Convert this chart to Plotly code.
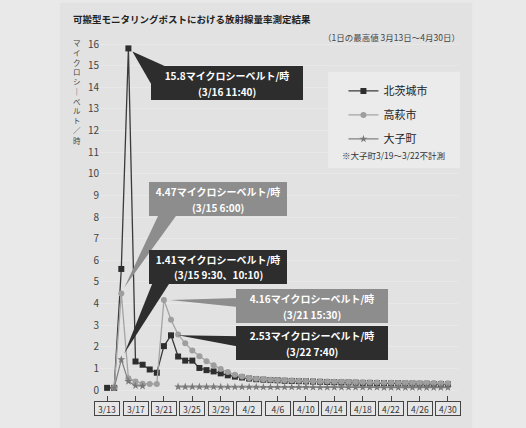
import plotly.graph_objects as go
import pandas as pd

# ---------------- data ----------------
dates = pd.date_range('2011-03-13', '2011-04-30').strftime('%Y-%m-%d').tolist()

kitaibaraki = [0.10, 0.10, 5.6, 15.8, 1.32, 1.17, 0.95, 0.80, 2.03, 2.53, 1.55, 1.36, 1.36, 1.02, 0.92, 0.86, 0.77, 0.68, 0.62,
               0.58, 0.53, 0.50, 0.48, 0.46, 0.45, 0.43, 0.42, 0.41, 0.40,
               0.39, 0.38, 0.37, 0.36, 0.35, 0.35, 0.34, 0.33, 0.33, 0.32,
               0.32, 0.31, 0.31, 0.30, 0.30, 0.29, 0.29, 0.28, 0.28, 0.27]

takahagi = [None, 0.10, 4.47, 0.55, 0.40, 0.29, 0.28, 0.28, 4.16, 3.25, 2.57, 2.16, 1.83, 1.56, 1.33, 1.15, 0.97, 0.83, 0.71,
            0.63, 0.56, 0.52, 0.50, 0.48, 0.46, 0.45, 0.44, 0.43, 0.42,
            0.41, 0.40, 0.39, 0.38, 0.38, 0.37, 0.36, 0.36, 0.35, 0.35,
            0.34, 0.34, 0.33, 0.33, 0.33, 0.32, 0.32, 0.32, 0.31, 0.31]

daigo = [None, 0.10, 1.41, 0.40, 0.20, 0.18, None, None, None, None, 0.15, 0.15, 0.15, 0.15, 0.15, 0.15, 0.14, 0.14, 0.14,
         0.14, 0.14, 0.14, 0.13, 0.13, 0.13, 0.13, 0.13, 0.13, 0.13,
         0.12, 0.12, 0.12, 0.12, 0.12, 0.12, 0.12, 0.12, 0.12, 0.12,
         0.11, 0.11, 0.11, 0.11, 0.11, 0.11, 0.11, 0.11, 0.11, 0.11]

series_names = ['北茨城市', '高萩市', '大子町']

tick_dates = ['2011-03-13', '2011-03-17', '2011-03-21', '2011-03-25', '2011-03-29', '2011-04-02', '2011-04-06',
              '2011-04-10', '2011-04-14', '2011-04-18', '2011-04-22', '2011-04-26', '2011-04-30']
tick_labels = ['3/13', '3/17', '3/21', '3/25', '3/29', '4/2', '4/6', '4/10', '4/14', '4/18', '4/22', '4/26', '4/30']

y_ticks = list(range(0, 17))

title_text = '可搬型モニタリングポストにおける放射線量率測定結果'
subtitle_text = '（1日の最高値 3月13日〜4月30日）'
y_title_chars = ['マ', 'イ', 'ク', 'ロ', 'シ', '｜', 'ベ', 'ル', 'ト', '／', '時']
note_text = '※大子町3/19〜3/22不計測'

# callouts: (date, value, line1, line2, style)
callouts = [
    ('2011-03-16', 15.8, '15.8マイクロシーベルト/時', '(3/16 11:40)', 'dark'),
    ('2011-03-15', 4.47, '4.47マイクロシーベルト/時', '(3/15 6:00)', 'gray'),
    ('2011-03-15', 1.41, '1.41マイクロシーベルト/時', '(3/15 9:30、10:10)', 'dark'),
    ('2011-03-21', 4.16, '4.16マイクロシーベルト/時', '(3/21 15:30)', 'gray'),
    ('2011-03-22', 2.53, '2.53マイクロシーベルト/時', '(3/22 7:40)', 'dark'),
]
# box offsets (screen pixels from point), sizes, and wedge base points (screen pixels from point)
callout_layout = [
    dict(ax=99, ay=35, w=148, h=30, base=[(23, 36), (44, 21)], tip=(4, 3)),
    dict(ax=97, ay=-94, w=134, h=30, base=[(37, -78), (55, -78)], tip=(3, -6)),
    dict(ax=97, ay=-93, w=134, h=30, base=[(31, -76), (48, -76)], tip=(3, -6)),
    dict(ax=148, ay=6, w=148, h=30, base=[(74, -2), (74, 7)], tip=(6, 0)),
    dict(ax=141, ay=8, w=148, h=30, base=[(71, 1), (71, 12)], tip=(7, 0)),
]

FONT = 'Noto Sans CJK JP, Noto Sans, sans-serif'

fig = go.Figure()

fig.add_trace(go.Scatter(
    x=dates, y=kitaibaraki, name=series_names[0], mode='lines+markers',
    line=dict(color='#3a3a3a', width=1.3),
    marker=dict(symbol='square', size=6, color='#2e2e2e'),
    legendgroup='a'))
fig.add_trace(go.Scatter(
    x=dates, y=takahagi, name=series_names[1], mode='lines+markers',
    line=dict(color='#a4a4a4', width=1.3),
    marker=dict(symbol='circle', size=6, color='#9e9e9e'),
    legendgroup='b'))
fig.add_trace(go.Scatter(
    x=dates, y=daigo, name=series_names[2], mode='lines+markers',
    line=dict(color='#808080', width=1.2),
    marker=dict(symbol='star', size=6, color='#787878'),
    connectgaps=False, legendgroup='c'))

annotations = []
shapes = []

# card background and legend box
shapes.append(dict(type='rect', xref='paper', yref='paper', x0=-0.112, x1=1.04, y0=-0.1, y1=1.114,
                   fillcolor='#e2e2e2', line=dict(width=0), layer='below'))
shapes.append(dict(type='rect', xref='paper', yref='paper', x0=0.637, x1=1.006, y0=0.645, y1=0.918,
                   fillcolor='#ebebeb', line=dict(width=0), layer='above'))

# title and subtitle
annotations.append(dict(text='<b>' + title_text + '</b>', xref='paper', yref='paper', x=-0.08, y=1.068,
                        xanchor='left', yanchor='middle', showarrow=False,
                        font=dict(family=FONT, size=9.5, color='#222')))
annotations.append(dict(text=subtitle_text, xref='paper', yref='paper', x=1.012, y=1.017,
                        xanchor='right', yanchor='middle', showarrow=False,
                        font=dict(family=FONT, size=8.5, color='#444')))

# vertical y-axis title (stacked characters)
annotations.append(dict(text='<br>'.join(y_title_chars), xref='paper', yref='paper', x=-0.064,
                        y=(395 - 36) / 352, xanchor='center', yanchor='top', showarrow=False,
                        borderpad=0, font=dict(family=FONT, size=7.5, color='#444')))

# legend note
annotations.append(dict(text=note_text, xref='paper', yref='paper', x=0.82, y=0.683,
                        xanchor='center', yanchor='middle', showarrow=False,
                        font=dict(family=FONT, size=8.5, color='#333')))

# x tick label boxes
for d, lab in zip(tick_dates, tick_labels):
    annotations.append(dict(text=lab, x=d, xref='x', y=0, yref='paper', yanchor='top', yshift=-6,
                            showarrow=False, width=22, height=11, borderpad=1,
                            bordercolor='#444', borderwidth=1, bgcolor='#e6e6e6',
                            font=dict(family=FONT, size=8.5, color='#333')))

# callouts (boxes + wedge pointers)
for (d, v, l1, l2, style), lay in zip(callouts, callout_layout):
    col = '#2d2d2d' if style == 'dark' else '#8d8d8d'
    (bx1, by1), (bx2, by2) = lay['base']
    tx, ty = lay['tip']
    path = 'M {} {} L {} {} L {} {} Z'.format(tx, -ty, bx1, -by1, bx2, -by2)
    shapes.append(dict(type='path', xref='x', yref='y', xsizemode='pixel', ysizemode='pixel',
                       xanchor=d, yanchor=v, path=path, fillcolor=col, line=dict(width=0),
                       layer='above'))
    # box with first line at top
    annotations.append(dict(
        x=d, y=v, xref='x', yref='y', text='<b>' + l1 + '</b>',
        showarrow=True, ax=lay['ax'], ay=lay['ay'], arrowhead=0, arrowwidth=0.1,
        arrowcolor='rgba(0,0,0,0)', valign='top',
        width=lay['w'], height=lay['h'], bgcolor=col, borderpad=1, bordercolor=col,
        font=dict(family=FONT, size=10, color='white'), align='center'))
    # second line
    annotations.append(dict(
        x=d, y=v, xref='x', yref='y', text='<b>' + l2 + '</b>',
        showarrow=True, ax=lay['ax'], ay=lay['ay'] + 8, arrowhead=0, arrowwidth=0.1,
        arrowcolor='rgba(0,0,0,0)',
        font=dict(family=FONT, size=10, color='white'), align='center'))

fig.update_layout(
    width=526, height=428,
    margin=dict(l=100, r=68, t=43, b=33),
    paper_bgcolor='#e9e9e9', plot_bgcolor='#d3d3d3',
    font=dict(family=FONT, color='#333'),
    showlegend=True,
    legend=dict(x=0.68, y=0.905, xanchor='left', yanchor='top', bgcolor='rgba(0,0,0,0)',
                font=dict(family=FONT, size=11, color='#222'), tracegroupgap=5,
                itemwidth=30),
    annotations=annotations, shapes=shapes,
    xaxis=dict(type='date', range=['2011-03-12', '2011-05-01 10:00'], showgrid=False, zeroline=False,
               tickvals=tick_dates, showticklabels=False, ticks='outside', ticklen=6, tickcolor='#444',
               showline=False),
    yaxis=dict(range=[-0.23, 16.05], tickvals=y_ticks, showgrid=True, gridcolor='#e8e8e8', gridwidth=1,
               zeroline=False, ticks='', tickfont=dict(family=FONT, size=10, color='#444'),
               showline=False),
)

fig.write_html('out.html')
